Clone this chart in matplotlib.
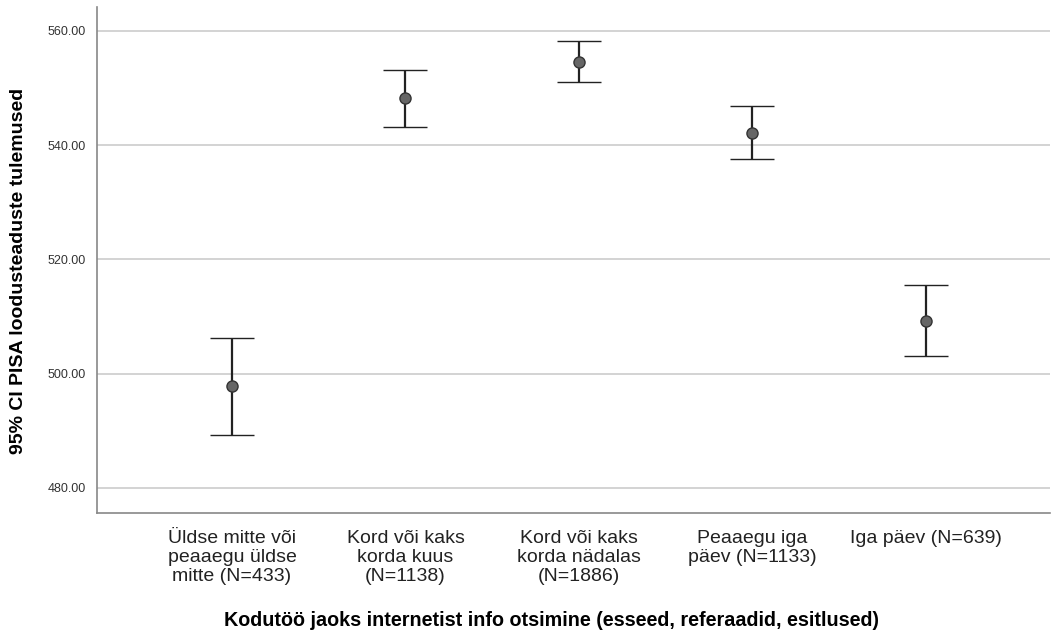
import matplotlib.pyplot as plt
import numpy as np

plt.rcParams['font.family'] = ['Liberation Sans', 'DejaVu Sans']

categories = ["Üldse mitte või\npeaaegu üldse\nmitte (N=433)",
              "Kord või kaks\nkorda kuus\n(N=1138)",
              "Kord või kaks\nkorda nädalas\n(N=1886)",
              "Peaaegu iga\npäev (N=1133)",
              "Iga päev (N=639)"]
means = [497.9, 548.2, 554.6, 542.2, 509.3]
lower = [489.3, 543.2, 551.0, 537.5, 503.1]
upper = [506.3, 553.2, 558.2, 546.9, 515.6]
yticks = [480, 500, 520, 540, 560]

W, H = 1052, 634
fig = plt.figure(figsize=(W / 100, H / 100), dpi=100)
L, R, T, B = 97, 1050, 7, 513
ax = fig.add_axes([L / W, 1 - B / H, (R - L) / W, (B - T) / H])

x = np.arange(1, len(categories) + 1)
m = np.array(means)
err = [m - np.array(lower), np.array(upper) - m]
ax.errorbar(x, m, yerr=err, fmt='o', color='#222222', ecolor='#222222',
            elinewidth=1.6, capsize=15.5, capthick=1.8,
            markersize=8, markerfacecolor='#666666', markeredgecolor='#333333',
            markeredgewidth=1.0, zorder=3)

ax.set_xlim(0.222, 5.715)
ax.set_ylim(475.6, 564.2)
ax.set_yticks(yticks)
ax.set_yticklabels([f"{v:.2f}" for v in yticks], fontsize=9, color='#333333')
ax.set_xticks(x)
ax.set_xticklabels(categories, fontsize=14, color='#222222', linespacing=1.15,
                   va='top')
ax.tick_params(axis='both', length=0)
ax.tick_params(axis='y', pad=8)
ax.tick_params(axis='x', pad=12)
ax.grid(axis='y', color='#cccccc', linewidth=1.2, zorder=0)
ax.set_axisbelow(True)
for s in ['top', 'right']:
    ax.spines[s].set_visible(False)
for s in ['left', 'bottom']:
    ax.spines[s].set_color('#888888')
    ax.spines[s].set_linewidth(1.2)

ax.set_ylabel("95% CI PISA loodusteaduste tulemused", fontsize=14,
              fontweight='bold', va='center')
ax.yaxis.set_label_coords(-(L - 19) / (R - L), (B - 271) / (B - T))
ax.set_xlabel("Kodutöö jaoks internetist info otsimine (esseed, referaadid, esitlused)",
              fontsize=14.2, fontweight='bold', va='center')
ax.xaxis.set_label_coords((551 - L) / (R - L), -(620 - B) / (B - T))

fig.savefig("out.png", dpi=100)
